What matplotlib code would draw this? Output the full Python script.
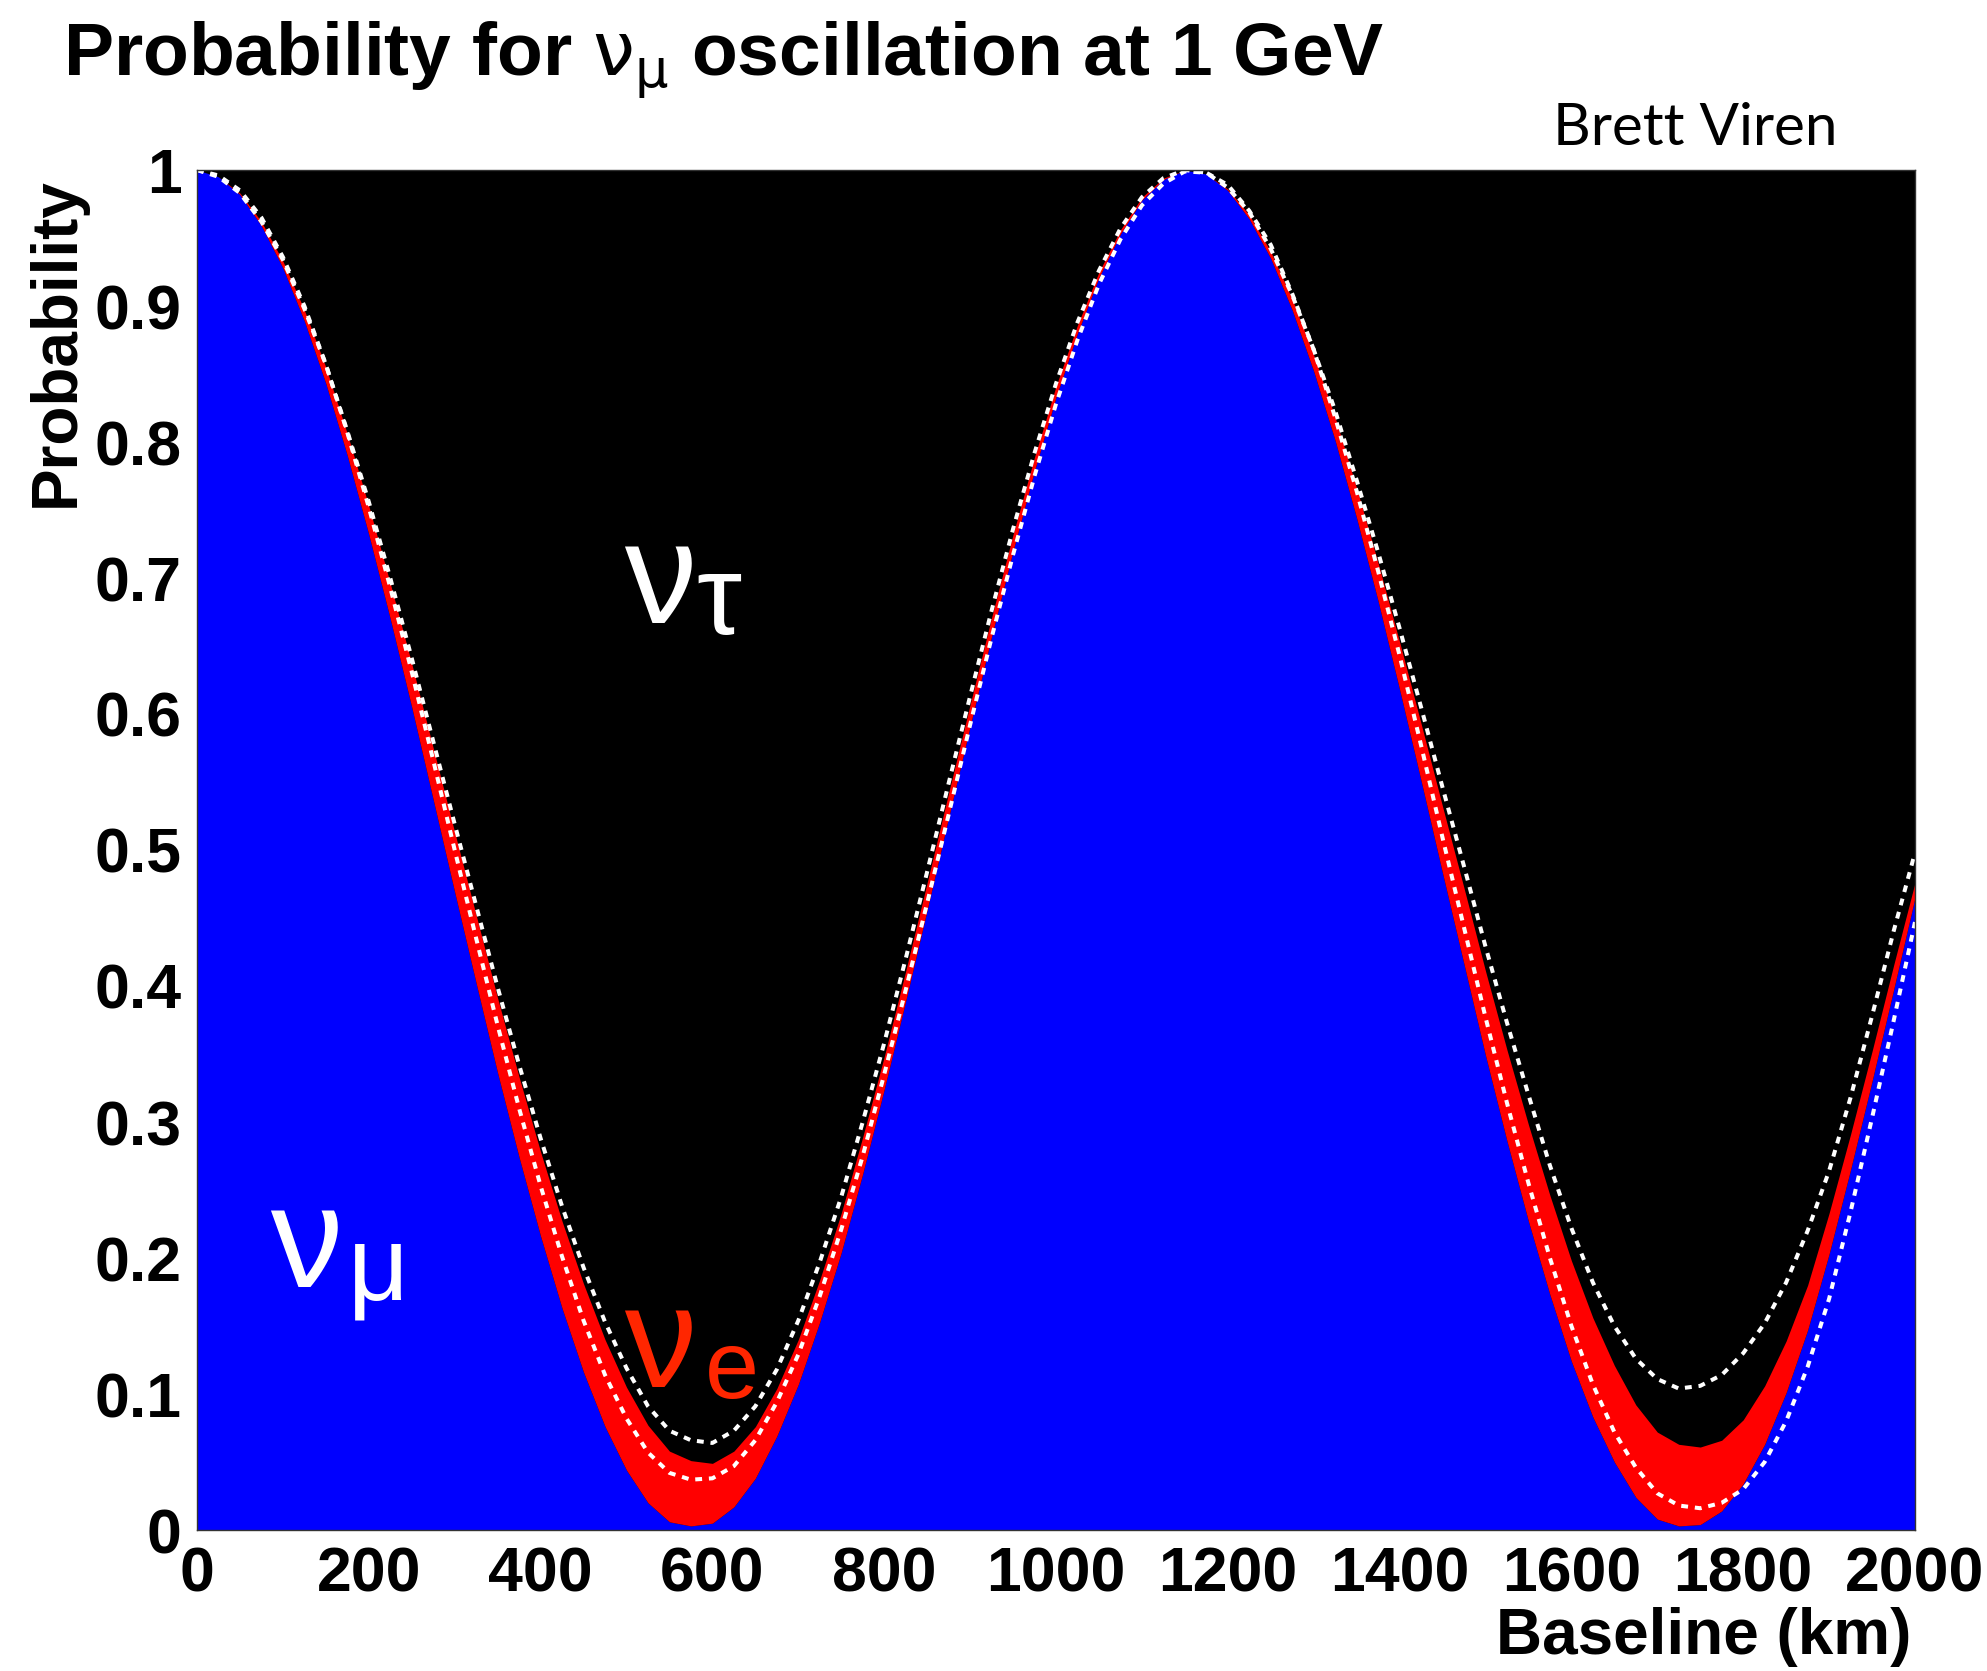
import matplotlib
matplotlib.use("Agg")
import matplotlib.pyplot as plt

# baseline sampling grid (km) and probabilities
baseline_km = [0, 25, 50, 75, 100, 125, 150, 175, 200, 225, 250,
               275, 300, 325, 350, 375, 400, 425, 450, 475, 500,
               525, 550, 575, 600, 625, 650, 675, 700, 725, 750,
               775, 800, 825, 850, 875, 900, 925, 950, 975, 1000,
               1025, 1050, 1075, 1100, 1125, 1150, 1175, 1200, 1225, 1250,
               1275, 1300, 1325, 1350, 1375, 1400, 1425, 1450, 1475, 1500,
               1525, 1550, 1575, 1600, 1625, 1650, 1675, 1700, 1725, 1750,
               1775, 1800, 1825, 1850, 1875, 1900, 1925, 1950, 1975, 2000]

# nu_mu survival (top of blue)
p_mumu = [1.000, 0.995, 0.982, 0.959, 0.928, 0.889, 0.843, 0.790, 0.732, 0.670, 0.605,
          0.537, 0.469, 0.402, 0.336, 0.274, 0.216, 0.163, 0.116, 0.076, 0.044,
          0.020, 0.006, 0.003, 0.005, 0.017, 0.038, 0.069, 0.107, 0.153, 0.204,
          0.262, 0.324, 0.389, 0.456, 0.524, 0.591, 0.657, 0.720, 0.779, 0.833,
          0.880, 0.921, 0.953, 0.978, 0.993, 1.000, 0.997, 0.985, 0.964, 0.935,
          0.897, 0.852, 0.801, 0.744, 0.683, 0.618, 0.551, 0.483, 0.416, 0.349,
          0.286, 0.227, 0.173, 0.124, 0.083, 0.050, 0.024, 0.008, 0.003, 0.004,
          0.014, 0.034, 0.063, 0.101, 0.147, 0.203, 0.265, 0.330, 0.397, 0.465]

# nu_mu + nu_e (top of red band)
p_mu_plus_e = [1.000, 0.995, 0.983, 0.962, 0.933, 0.897, 0.855, 0.806, 0.753, 0.696, 0.637,
               0.575, 0.513, 0.452, 0.391, 0.333, 0.278, 0.227, 0.181, 0.140, 0.105,
               0.077, 0.058, 0.051, 0.049, 0.058, 0.076, 0.104, 0.140, 0.184, 0.233,
               0.289, 0.348, 0.411, 0.476, 0.542, 0.607, 0.671, 0.732, 0.789, 0.841,
               0.886, 0.925, 0.956, 0.980, 0.994, 1.000, 0.997, 0.986, 0.967, 0.940,
               0.905, 0.864, 0.818, 0.766, 0.711, 0.653, 0.593, 0.532, 0.472, 0.411,
               0.353, 0.298, 0.246, 0.198, 0.156, 0.121, 0.092, 0.072, 0.063, 0.061,
               0.066, 0.081, 0.106, 0.139, 0.180, 0.233, 0.291, 0.352, 0.415, 0.476]

# white dashed curves
dash_lower = [1.000, 0.996, 0.985, 0.965, 0.936, 0.900, 0.857, 0.807, 0.752, 0.693, 0.631,
              0.566, 0.500, 0.435, 0.371, 0.310, 0.253, 0.201, 0.154, 0.114, 0.082,
              0.057, 0.042, 0.037, 0.038, 0.047, 0.066, 0.094, 0.129, 0.172, 0.221,
              0.275, 0.335, 0.397, 0.461, 0.526, 0.592, 0.656, 0.717, 0.775, 0.828,
              0.875, 0.916, 0.949, 0.974, 0.990, 0.999, 0.998, 0.989, 0.970, 0.945,
              0.909, 0.868, 0.818, 0.764, 0.705, 0.643, 0.577, 0.509, 0.443, 0.377,
              0.314, 0.255, 0.200, 0.150, 0.107, 0.072, 0.046, 0.027, 0.018, 0.016,
              0.020, 0.030, 0.050, 0.080, 0.120, 0.170, 0.234, 0.303, 0.374, 0.447]

dash_upper = [1.000, 0.995, 0.983, 0.962, 0.934, 0.898, 0.857, 0.808, 0.756, 0.700, 0.641,
              0.580, 0.519, 0.459, 0.399, 0.342, 0.288, 0.238, 0.193, 0.153, 0.119,
              0.091, 0.073, 0.066, 0.064, 0.073, 0.091, 0.118, 0.154, 0.197, 0.245,
              0.300, 0.358, 0.420, 0.484, 0.549, 0.613, 0.676, 0.736, 0.792, 0.843,
              0.888, 0.926, 0.957, 0.980, 0.994, 1.000, 0.998, 0.987, 0.969, 0.942,
              0.908, 0.868, 0.823, 0.772, 0.719, 0.663, 0.605, 0.546, 0.488, 0.429,
              0.373, 0.320, 0.268, 0.222, 0.182, 0.150, 0.126, 0.111, 0.104, 0.106,
              0.114, 0.130, 0.152, 0.182, 0.220, 0.264, 0.318, 0.378, 0.440, 0.498]

xticks = [0, 200, 400, 600, 800, 1000, 1200, 1400, 1600, 1800, 2000]
yticks = [0, 0.1, 0.2, 0.3, 0.4, 0.5, 0.6, 0.7, 0.8, 0.9, 1]
ytick_labels = ["0", "0.1", "0.2", "0.3", "0.4", "0.5", "0.6", "0.7", "0.8", "0.9", "1"]

plt.rcParams['font.family'] = ['Liberation Sans', 'DejaVu Sans']

W, H = 1987, 1671
fig = plt.figure(figsize=(W / 100, H / 100), dpi=100)
ax = fig.add_axes([197 / W, 1 - 1530 / H, (1915 - 197) / W, (1530 - 170) / H])
ax.set_facecolor('black')

ax.fill_between(baseline_km, 0, p_mumu, color='#0000ff', lw=0)
ax.fill_between(baseline_km, p_mumu, p_mu_plus_e, color='#ff0000', lw=0)
ax.plot(baseline_km, dash_lower, color='white', lw=2.9, dashes=(1.7, 1.7))
ax.plot(baseline_km, dash_upper, color='white', lw=2.9, dashes=(1.7, 1.7))

ax.set_xlim(0, 2000)
ax.set_ylim(0, 1)
ax.set_xticks(xticks)
ax.set_xticklabels([str(v) for v in xticks], fontsize=45, fontweight='bold')
ax.set_yticks(yticks)
ax.set_yticklabels(ytick_labels, fontsize=45, fontweight='bold')
ax.tick_params(axis='x', length=0, pad=11)
ax.tick_params(axis='y', length=0, pad=11)
for s in ax.spines.values():
    s.set_color('#333333')
    s.set_linewidth(1)

fig.text(63 / W, 1 - 76 / H, r'Probability for $\mathrm{\nu}_{\mathrm{\mu}}$ oscillation at 1 GeV',
         fontsize=54, fontweight='bold', ha='left', va='baseline')
fig.text(57 / W, 1 - 177 / H, 'Probability', rotation=90, fontsize=46,
         fontweight='bold', ha='center', va='top')
fig.text(1911 / W, 1 - 1637 / H, 'Baseline (km)', fontsize=46,
         fontweight='bold', ha='right', va='center')
fig.text(1553 / W, 1 - 145 / H, 'Brett Viren', fontsize=42, family=['Lato', 'DejaVu Sans'],
         fontweight='normal', color='black', ha='left', va='baseline')

# flavour labels
greek = ['Liberation Sans', 'DejaVu Sans']
fig.text(624 / W, 1 - 623 / H, 'ν', fontsize=104, color='white', family=greek, va='baseline')
fig.text(696 / W, 1 - 634 / H, 'τ', fontsize=82, color='white', family=greek, va='baseline')
fig.text(270 / W, 1 - 1287 / H, 'ν', fontsize=104, color='white', family=greek, va='baseline')
fig.text(348 / W, 1 - 1299 / H, 'μ', fontsize=76, color='white', family=greek, va='baseline')
fig.text(624 / W, 1 - 1387 / H, 'ν', fontsize=104, color='#ff2600', family=greek, va='baseline')
fig.text(705 / W, 1 - 1398 / H, 'e', fontsize=70, color='#ff2600', family=greek, va='baseline')

fig.savefig('out.png', dpi=100)
